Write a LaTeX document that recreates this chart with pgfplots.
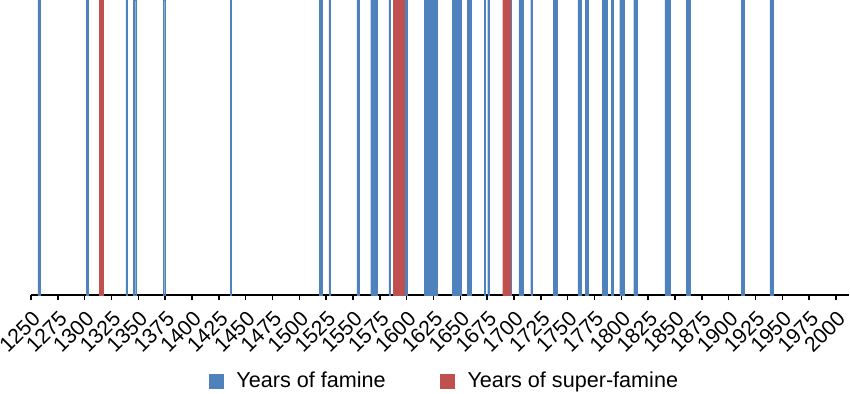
\documentclass[border=0pt]{standalone}
\usepackage{pgfplots}
\pgfplotsset{compat=1.18}
\usepackage{fontspec}
\setmainfont{Liberation Sans}
\definecolor{famblue}{RGB}{79,129,189}
\definecolor{famred}{RGB}{192,80,77}
\begin{document}
\begin{tikzpicture}
\useasboundingbox (-15.5pt,-49pt) rectangle (409.5pt,147.5pt);
\begin{axis}[
  at={(0pt,0pt)}, anchor=south west,
  scale only axis, width=408.93pt, height=147.5pt,
  xmin=1250, xmax=2012, ymin=0, ymax=1,
  axis x line*=bottom, axis y line=none,
  xtick={1250,1275,...,2000}, ytick=\empty,
  /pgf/number format/1000 sep={},
  /pgf/number format/assume math mode=true,
  x tick label style={rotate=45, anchor=north east, font=\fontsize{10.6}{12}\selectfont},
  tick align=outside, major tick length=2.5pt,
  tick style={black, line width=0.8pt},
  axis line style={black, line width=0.9pt},
  ybar, bar width=1,
  legend columns=2,
  legend style={at={(0.507,-0.2915)}, anchor=center, draw=none, fill=none,
    font=\fontsize{10.8}{13}\selectfont,
    /tikz/every odd column/.append style={column sep=4.5pt},
    /tikz/every even column/.append style={column sep=25.3pt}},
  legend image code/.code={\fill[#1] (0pt,-3.5pt) rectangle (7pt,3.5pt);},
]
\addplot[fill=famblue, draw=famblue, line width=0.1pt, bar shift=0pt] coordinates {
(1257,1)(1258,1)
(1302,1)(1303,1)
(1339,1)
(1346,1)(1347,1)
(1374,1)
(1436,1)
(1519,1)(1520,1)(1521,1)
(1528,1)
(1554,1)(1555,1)
(1567,1)(1568,1)(1569,1)(1570,1)(1571,1)(1572,1)
(1584,1)
(1598,1)(1599,1)(1600,1)
(1617,1)(1618,1)(1619,1)(1620,1)(1621,1)(1622,1)(1623,1)(1624,1)(1625,1)(1626,1)(1627,1)(1628,1)
(1643,1)(1644,1)(1645,1)(1646,1)(1647,1)(1648,1)(1649,1)(1650,1)
(1657,1)(1658,1)(1659,1)(1660,1)
(1673,1)
(1676,1)
(1697,1)
(1705,1)(1706,1)(1707,1)(1708,1)
(1716,1)
(1737,1)(1738,1)(1739,1)(1740,1)
(1760,1)(1761,1)(1762,1)
(1767,1)(1768,1)(1769,1)
(1783,1)(1784,1)(1785,1)(1786,1)
(1791,1)(1792,1)
(1799,1)(1800,1)(1801,1)(1802,1)
(1812,1)(1813,1)(1814,1)
(1841,1)(1842,1)(1843,1)(1844,1)(1845,1)
(1861,1)(1862,1)(1863,1)(1864,1)
(1912,1)(1913,1)(1914,1)
(1939,1)(1940,1)(1941,1)
};
\addplot[fill=famred, draw=famred, line width=0.1pt, bar shift=0pt] coordinates {
(1314,1)(1315,1)(1316,1)(1317,1)
(1588,1)(1589,1)(1590,1)(1591,1)(1592,1)(1593,1)(1594,1)(1595,1)(1596,1)(1597,1)
(1690,1)(1691,1)(1692,1)(1693,1)(1694,1)(1695,1)(1696,1)
};
\legend{Years of famine, Years of super-famine}
\end{axis}
\end{tikzpicture}
\end{document}
